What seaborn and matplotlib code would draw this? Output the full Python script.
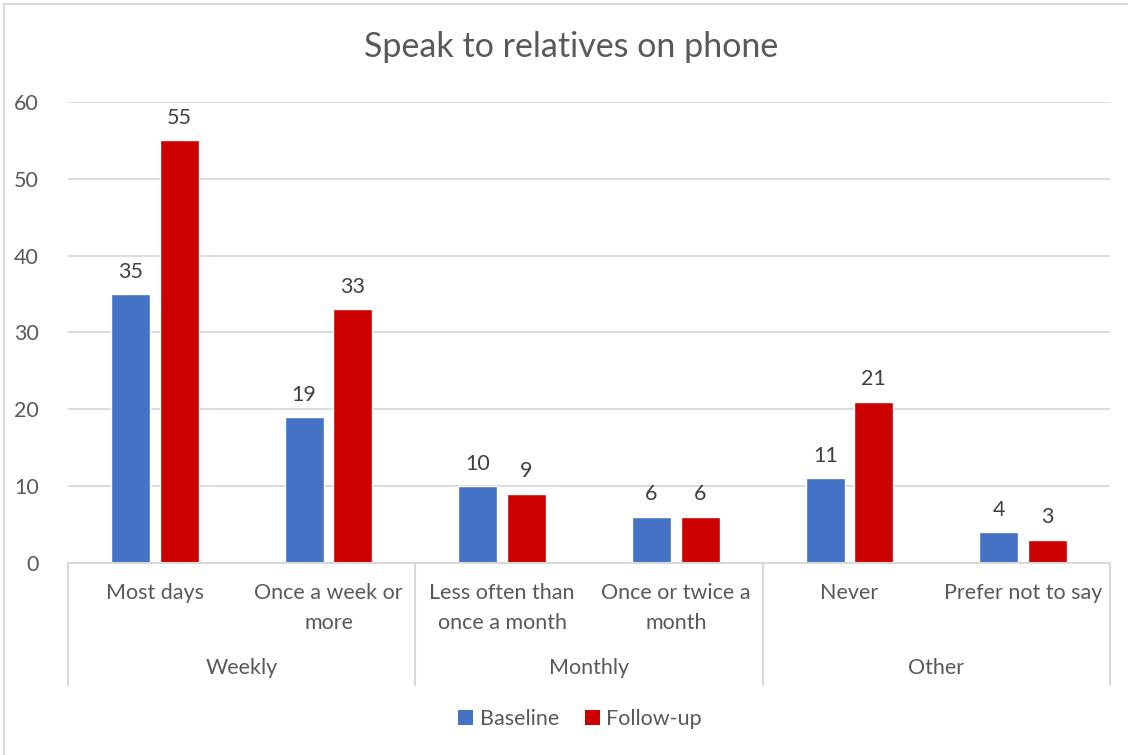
import matplotlib
matplotlib.use("Agg")
import matplotlib.pyplot as plt
import matplotlib.transforms as mtransforms
from matplotlib.patches import Rectangle, Patch
import pandas as pd
import seaborn as sns

# Chart data
categories = ["Most days", "Once a week or more", "Less often than once a month",
              "Once or twice a month", "Never", "Prefer not to say"]
tick_labels = ["Most days", "Once a week or\nmore", "Less often than\nonce a month",
               "Once or twice a\nmonth", "Never", "Prefer not to say"]
groups = ["Weekly", "Monthly", "Other"]
group_sizes = [2, 2, 2]
baseline = [35, 19, 10, 6, 11, 4]
follow_up = [55, 33, 9, 6, 21, 3]
series = ["Baseline", "Follow-up"]
colors = ["#4472C4", "#CC0000"]
yticks = [0, 10, 20, 30, 40, 50, 60]

df = pd.DataFrame({
    "category": categories * 2,
    "value": baseline + follow_up,
    "series": [series[0]] * len(categories) + [series[1]] * len(categories),
})

sns.set_theme(style="white")
plt.rcParams["font.family"] = ["Lato", "DejaVu Sans"]
text_color = "#595959"
grid_color = "#D9D9D9"
fs = 15.5

fig = plt.figure(figsize=(11.28, 7.55), dpi=100)
ax = fig.add_axes([68 / 1128, 1 - 563 / 755, (1110 - 68) / 1128, (563 - 102) / 755])

sns.barplot(data=df, x="category", y="value", hue="series", order=categories,
            hue_order=series, palette=colors, width=0.56, gap=0.2,
            saturation=1, ax=ax, legend=False, errorbar=None)

ax.set_xlim(-0.5, len(categories) - 0.5)
ax.set_ylim(0, 60)
ax.set_yticks(yticks)
ax.set_yticklabels([str(t) for t in yticks], fontsize=fs, color=text_color)
ax.tick_params(axis="y", length=0, pad=21)
ax.set_xticks([])
ax.set_xlabel("")
ax.set_ylabel("")
ax.yaxis.grid(True, color=grid_color, linewidth=1.3)
ax.set_axisbelow(True)
for s in ax.spines.values():
    s.set_visible(False)

# Value labels above each bar
for cont in ax.containers:
    ax.bar_label(cont, labels=[f"{v:g}" for v in cont.datavalues],
                 padding=9, fontsize=fs, color="#404040")

# Multi-level category axis
trans = mtransforms.blended_transform_factory(ax.transData, ax.transAxes)
px = 1 / ((563 - 102))  # one pixel in axes-height units
ax.plot([-0.5, len(categories) - 0.5], [0, 0], transform=trans, color=grid_color,
        lw=1.5, clip_on=False)
bounds = [-0.5]
for n in group_sizes:
    bounds.append(bounds[-1] + n)
for b in bounds:
    ax.plot([b, b], [0, -122 * px], transform=trans, color=grid_color, lw=1.5,
            clip_on=False)
for i, lab in enumerate(tick_labels):
    ax.text(i, -20 * px, lab, transform=trans, ha="center", va="top",
            fontsize=fs, color=text_color, linespacing=1.62)
for g, (lo, hi) in enumerate(zip(bounds[:-1], bounds[1:])):
    ax.text((lo + hi) / 2, -105 * px, groups[g], transform=trans, ha="center",
            va="center", fontsize=fs, color=text_color)

fig.text(571 / 1128, 1 - 47 / 755, "Speak to relatives on phone", ha="center",
         va="center", fontsize=24.5, color=text_color)

handles = [Patch(facecolor=c, edgecolor="none") for c in colors]
fig.legend(handles, series, loc="center", bbox_to_anchor=(580 / 1128, 1 - 719 / 755),
           ncol=2, frameon=False, fontsize=fs, handlelength=0.7, handleheight=0.7,
           handletextpad=0.3, columnspacing=1.2, labelcolor=text_color)

# Chart border
fig.patches.append(Rectangle((4 / 1128, -0.1), 1.2, (751 / 755) + 0.1,
                             transform=fig.transFigure, fill=False,
                             edgecolor=grid_color, lw=1.5))

fig.savefig("out.png", dpi=100, facecolor="white")
